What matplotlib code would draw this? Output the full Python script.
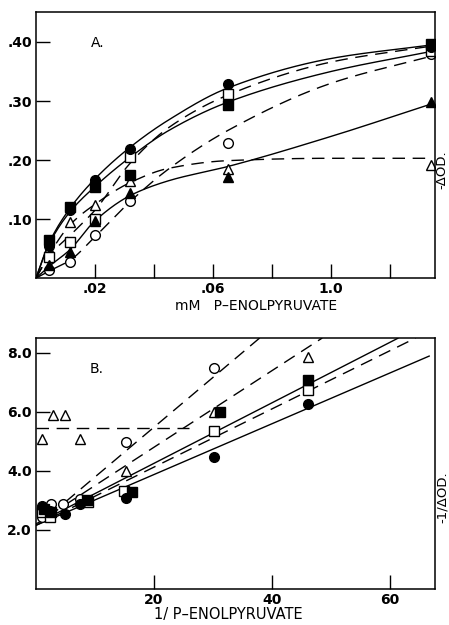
import numpy as np
import matplotlib
matplotlib.use("Agg")
import matplotlib.pyplot as plt

# ---- Panel A: -ΔOD vs mM P-enolpyruvate ----
conc = [0.0045, 0.0115, 0.02, 0.032, 0.065, 0.134]
a_filled_circle = [0.055, 0.115, 0.166, 0.219, 0.329, 0.391]
a_open_square = [0.036, 0.061, 0.100, 0.205, 0.312, 0.385]
a_filled_square = [0.064, 0.120, 0.154, 0.174, 0.293, 0.397]
a_open_circle = [0.014, 0.027, 0.073, 0.130, 0.229, 0.379]
a_open_triangle = [0.040, 0.095, 0.124, 0.164, 0.185, 0.191]
a_filled_triangle = [0.022, 0.044, 0.097, 0.144, 0.172, 0.298]

# hand-drawn curves of panel A
curve_x = [0, 0.0045, 0.0115, 0.02, 0.032, 0.045, 0.065, 0.10, 0.134]
c_filled_circle = [0, 0.060, 0.118, 0.168, 0.222, 0.268, 0.322, 0.372, 0.395]
c_open_square = [0, 0.038, 0.072, 0.115, 0.195, 0.255, 0.310, 0.366, 0.393]
c_filled_square = [0, 0.058, 0.112, 0.155, 0.205, 0.250, 0.298, 0.350, 0.384]
c_open_circle = [0, 0.012, 0.030, 0.070, 0.130, 0.185, 0.250, 0.330, 0.376]
c_open_triangle = [0, 0.040, 0.090, 0.125, 0.162, 0.186, 0.199, 0.203, 0.203]
c_filled_triangle = [0, 0.020, 0.048, 0.097, 0.140, 0.165, 0.189, 0.240, 0.295]

# ---- Panel B: -1/ΔOD vs 1/P-enolpyruvate ----
b_open_triangle_x = [1.0, 2.95, 4.9, 7.5, 15.3, 30.1, 46.0]
b_open_triangle_y = [5.07, 5.89, 5.89, 5.07, 4.00, 5.98, 7.87]
b_open_circle_x = [1.0, 2.6, 4.6, 7.5, 15.2, 30.1]
b_open_circle_y = [2.44, 2.88, 2.88, 3.05, 4.98, 7.50]
b_filled_circle_x = [1.0, 2.4, 4.9, 7.5, 15.2, 30.1, 46.0]
b_filled_circle_y = [2.82, 2.65, 2.54, 2.88, 3.08, 4.48, 6.26]
b_filled_square_x = [1.3, 2.6, 8.6, 16.3, 31.1, 46.0]
b_filled_square_y = [2.70, 2.60, 3.02, 3.27, 5.98, 7.07]
b_open_square_x = [1.0, 2.4, 8.9, 14.9, 30.1, 46.0]
b_open_square_y = [2.60, 2.43, 2.93, 3.30, 5.36, 6.74]

# straight lines in panel B: intercept, slope, x range, style
line_icpt = [2.15, 2.15, 2.20, 2.20, 2.10, 5.45]
line_slope = [0.0862, 0.0988, 0.1027, 0.130, 0.169, 0.0]
line_x0 = [0, 0, 0, 2, 5, 0]
line_x1 = [66.6, 64.3, 61.3, 48.5, 37.9, 26.0]
line_dashed = [False, True, False, True, True, True]


def smooth(xk, yk, n=300):
    # monotone cubic (PCHIP) through the knots, only for drawing the curve
    xk = np.asarray(xk, float)
    yk = np.asarray(yk, float)
    h = np.diff(xk)
    d = np.diff(yk) / h
    m = np.zeros_like(yk)
    m[0], m[-1] = d[0], d[-1]
    for i in range(1, len(xk) - 1):
        if d[i - 1] * d[i] > 0:
            w1 = 2 * h[i] + h[i - 1]
            w2 = h[i] + 2 * h[i - 1]
            m[i] = (w1 + w2) / (w1 / d[i - 1] + w2 / d[i])
    xs = np.linspace(xk[0], xk[-1], n)
    i = np.clip(np.searchsorted(xk, xs) - 1, 0, len(h) - 1)
    t = (xs - xk[i]) / h[i]
    ys = ((2 * t**3 - 3 * t**2 + 1) * yk[i] + (t**3 - 2 * t**2 + t) * h[i] * m[i]
          + (-2 * t**3 + 3 * t**2) * yk[i + 1] + (t**3 - t**2) * h[i] * m[i + 1])
    return xs, ys


DASH = (0, (9, 5.5))
fig = plt.figure(figsize=(4.49, 6.25), dpi=100)
axA = fig.add_axes([0.080, 0.555, 0.889, 0.426])
axB = fig.add_axes([0.080, 0.058, 0.889, 0.401])

open_kw = dict(mfc='white', mec='black', mew=1.0, ls='none')
fill_kw = dict(mfc='black', mec='black', ls='none')

# panel A curves
for cy, dashed in [(c_filled_circle, False), (c_open_square, True), (c_filled_square, False),
                   (c_open_circle, True), (c_open_triangle, True), (c_filled_triangle, False)]:
    xs, ys = smooth(curve_x, cy)
    axA.plot(xs, ys, color='black', lw=1.0, ls=DASH if dashed else '-')

axA.plot(conc, a_open_circle, 'o', ms=7, **open_kw)
axA.plot(conc, a_open_triangle, '^', ms=7, **open_kw)
axA.plot(conc, a_open_square, 's', ms=6.5, **open_kw)
axA.plot(conc, a_filled_triangle, '^', ms=7, **fill_kw)
axA.plot(conc, a_filled_square, 's', ms=6.5, **fill_kw)
axA.plot(conc, a_filled_circle, 'o', ms=7, **fill_kw)

axA.set_xlim(0, 0.1353)
axA.set_ylim(0, 0.451)
axA.set_xticks([0.02, 0.04, 0.06, 0.08, 0.10, 0.12])
axA.set_xticklabels(['.02', '', '.06', '', '1.0', ''])
axA.set_yticks([0.1, 0.2, 0.3, 0.4])
axA.set_yticklabels(['.10', '.20', '.30', '.40'])
axA.text(0.021, 0.398, 'A.', fontsize=10, ha='center', va='center')

# panel B lines
for b, k, x0, x1, dashed in zip(line_icpt, line_slope, line_x0, line_x1, line_dashed):
    xs = np.array([x0, x1])
    axB.plot(xs, b + k * xs, color='black', lw=1.0, ls=DASH if dashed else '-')

axB.plot(b_open_circle_x, b_open_circle_y, 'o', ms=7, **open_kw)
axB.plot(b_open_triangle_x, b_open_triangle_y, '^', ms=7, **open_kw)
axB.plot(b_open_square_x, b_open_square_y, 's', ms=6.5, **open_kw)
axB.plot(b_filled_square_x, b_filled_square_y, 's', ms=6.5, **fill_kw)
axB.plot(b_filled_circle_x, b_filled_circle_y, 'o', ms=7, **fill_kw)

axB.set_xlim(0, 67.6)
axB.set_ylim(0, 8.5)
axB.set_xticks([20, 40, 60])
axB.set_xticklabels(['20', '40', '60'])
axB.set_yticks([2, 4, 6, 8])
axB.set_yticklabels(['2.0', '4.0', '6.0', '8.0'])
axB.text(10.3, 7.44, 'B.', fontsize=10, ha='center', va='center')

for ax in (axA, axB):
    for s in ax.spines.values():
        s.set_linewidth(1.1)
    ax.tick_params(direction='in', length=10, width=1.0, pad=3,
                   labelsize=10, top=False, right=False)
    for lab in ax.get_xticklabels() + ax.get_yticklabels():
        lab.set_fontweight('bold')

fig.text(256 / 449, 1 - 306 / 625, 'mM   P\u2013ENOLPYRUVATE', fontsize=10,
         ha='center', va='center')
fig.text(228 / 449, 1 - 615 / 625, '1/ P\u2013ENOLPYRUVATE', fontsize=10.5,
         ha='center', va='center')
fig.text(442 / 449, 1 - 170 / 625, '-\u0394OD.', fontsize=9.5, rotation=90,
         ha='center', va='center')
fig.text(442 / 449, 1 - 497 / 625, '-1/\u0394OD.', fontsize=9.5, rotation=90,
         ha='center', va='center')

fig.savefig('out.png', dpi=100)
